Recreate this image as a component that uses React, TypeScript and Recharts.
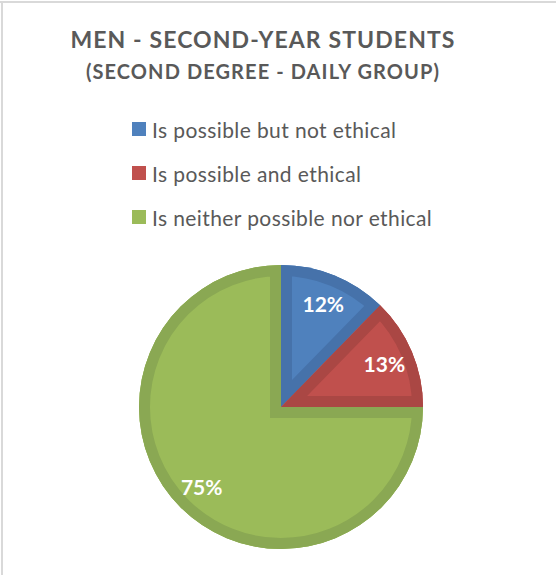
import React from 'react';
import { PieChart, Pie, Cell } from 'recharts';

const categories = [
  'Is possible but not ethical',
  'Is possible and ethical',
  'Is neither possible nor ethical',
];
const values = [12.3, 12.7, 75];
const fills = ['#4F81BD', '#C0504D', '#9BBB59'];
const bands = ['#4672AA', '#AA4744', '#8AA853'];
const titleLine1 = 'MEN - SECOND-YEAR STUDENTS';
const titleLine2 = '(SECOND DEGREE - DAILY GROUP)';

const data = categories.map((name, i) => ({ name, value: values[i] }));

const RAD = Math.PI / 180;
const FONT = 'Lato, "Open Sans", sans-serif';

function sectorPath(cx: number, cy: number, r: number, sa: number, ea: number) {
  const x1 = cx + r * Math.cos(sa * RAD);
  const y1 = cy - r * Math.sin(sa * RAD);
  const x2 = cx + r * Math.cos(ea * RAD);
  const y2 = cy - r * Math.sin(ea * RAD);
  const large = Math.abs(ea - sa) > 180 ? 1 : 0;
  const sweep = sa > ea ? 1 : 0;
  return `M${cx},${cy} L${x1},${y1} A${r},${r} 0 ${large} ${sweep} ${x2},${y2} Z`;
}

const renderSlice = (p: any) => {
  const { cx, cy, outerRadius, startAngle, endAngle, midAngle, percent, index } = p;
  const d = sectorPath(cx, cy, outerRadius, startAngle, endAngle);
  const id = `clip-slice-${index}`;
  const lr = outerRadius * 0.79;
  const x = cx + lr * Math.cos(-midAngle * RAD);
  const y = cy + lr * Math.sin(-midAngle * RAD);
  return (
    <g key={id}>
      <defs>
        <clipPath id={id}>
          <path d={d} />
        </clipPath>
      </defs>
      <path d={d} fill={fills[index]} stroke={bands[index]} strokeWidth={22} clipPath={`url(#${id})`} />
      <text
        x={x}
        y={y}
        fill="#FFFFFF"
        fontWeight={700}
        fontSize={21}
        fontFamily={FONT}
        textAnchor="middle"
        dominantBaseline="central"
      >
        {`${Math.round(percent * 100)}%`}
      </text>
    </g>
  );
};

export default function App() {
  return (
    <div style={{ position: 'absolute', left: 0, top: 0, width: 556, height: 575, background: '#fff', fontFamily: FONT }}>
      <div style={{ position: 'absolute', left: 0, top: 1, width: 556, height: 2, background: '#D9D9D9' }} />
      <div style={{ position: 'absolute', left: 1, top: 1, width: 2, height: 574, background: '#D9D9D9' }} />
      <div style={{ position: 'absolute', left: 0, width: 526, top: 28, textAlign: 'center', fontSize: 23, lineHeight: '23px', letterSpacing: 1.1, fontWeight: 700, color: '#595959' }}>
        {titleLine1}
      </div>
      <div style={{ position: 'absolute', left: 0, width: 526, top: 61, textAlign: 'center', fontSize: 20, lineHeight: '20px', letterSpacing: 1.1, fontWeight: 700, color: '#595959' }}>
        {titleLine2}
      </div>
      <div style={{ position: 'absolute', left: 132, top: 107 }}>
        {categories.map((c, i) => (
          <div key={c} style={{ display: 'flex', alignItems: 'center', height: 44 }}>
            <div style={{ width: 14, height: 14, background: fills[i], marginRight: 6 }} />
            <span style={{ fontSize: 21, letterSpacing: 0.4, color: '#595959', lineHeight: '21px' }}>{c}</span>
          </div>
        ))}
      </div>
      <div style={{ position: 'absolute', left: 0, top: 0 }}>
        <PieChart width={556} height={575} margin={{ top: 0, right: 0, bottom: 0, left: 0 }}>
          <Pie
            data={data}
            dataKey="value"
            nameKey="name"
            cx={281}
            cy={407}
            innerRadius={0}
            outerRadius={142}
            startAngle={90}
            endAngle={-270}
            stroke="none"
            label={renderSlice}
            labelLine={false}
            isAnimationActive={false}
          >
            {data.map((d, i) => (
              <Cell key={d.name} fill={fills[i]} />
            ))}
          </Pie>
        </PieChart>
      </div>
    </div>
  );
}
